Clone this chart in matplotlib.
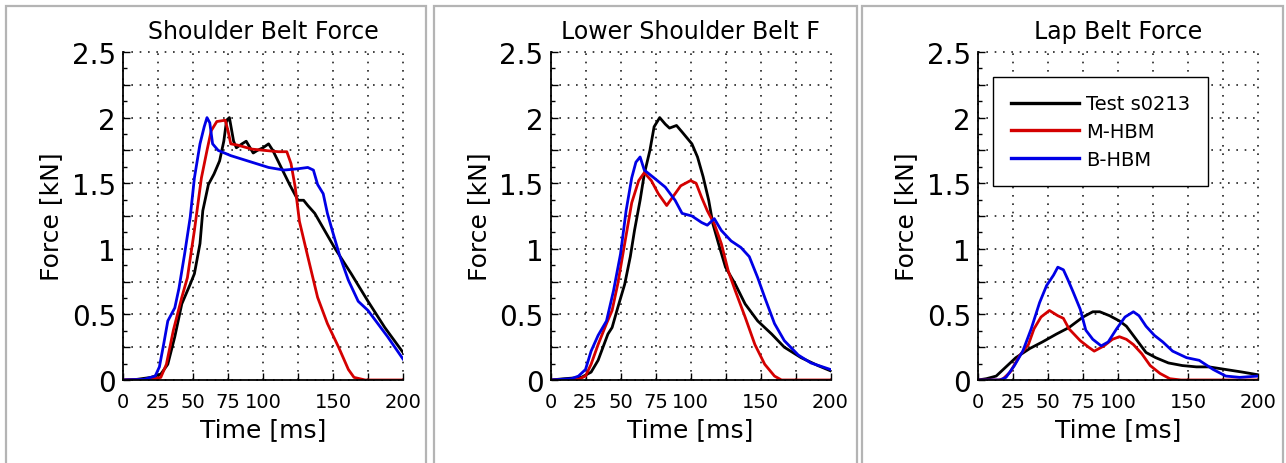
import matplotlib
matplotlib.use("Agg")
import matplotlib.pyplot as plt
from matplotlib.patches import Rectangle
from matplotlib.ticker import FixedLocator, MultipleLocator

plt.rcParams['font.family'] = ['DejaVu Sans']

titles = ["Shoulder Belt Force", "Lower Shoulder Belt F", "Lap Belt Force"]
series_names = ["Test s0213", "M-HBM", "B-HBM"]
x_ticks = [0, 25, 50, 75, 100, 125, 150, 175, 200]
x_tick_labels = ['0', '25', '50', '75', '100', '', '150', '', '200']
y_ticks = [0, 0.25, 0.5, 0.75, 1.0, 1.25, 1.5, 1.75, 2.0, 2.25, 2.5]
y_tick_labels = ['0', '', '0.5', '', '1', '', '1.5', '', '2', '', '2.5']

# Panel 1: Shoulder belt force
sb_test_t = [0, 10, 20, 27, 32, 37, 42, 48, 51, 55, 57, 61, 65, 69, 72, 74, 76, 79, 81, 85, 88, 93, 96, 100,
             104, 107, 113, 119, 125, 129, 132, 137, 144, 151, 163, 175, 187, 200]
sb_test_f = [0.0, 0.005, 0.02, 0.045, 0.12, 0.33, 0.58, 0.73, 0.81, 1.04, 1.29, 1.49, 1.57, 1.67, 1.82, 1.98,
             2.0, 1.82, 1.77, 1.8, 1.82, 1.73, 1.75, 1.77, 1.8, 1.75, 1.62, 1.49, 1.37, 1.37, 1.33, 1.27, 1.14,
             1.01, 0.81, 0.6, 0.4, 0.21]
sb_m_t = [0, 20, 27, 31, 36, 42, 46, 51, 56, 60, 63, 67, 73, 75, 77, 82, 92, 101, 111, 117, 120, 123, 126,
          132, 139, 146, 154, 161, 165, 173, 200]
sb_m_f = [0.0, 0.005, 0.02, 0.12, 0.38, 0.63, 0.78, 1.14, 1.54, 1.75, 1.9, 1.97, 1.98, 1.9, 1.8, 1.79, 1.76,
          1.75, 1.74, 1.74, 1.65, 1.47, 1.21, 0.94, 0.63, 0.43, 0.25, 0.08, 0.02, 0.0, 0.0]
sb_b_t = [0, 15, 23, 26, 29, 32, 37, 40, 44, 48, 51, 55, 58, 60, 62, 64, 68, 77, 92, 104, 115, 125, 132, 136,
          139, 143, 146, 150, 155, 161, 168, 175, 182, 189, 200]
sb_b_f = [0.0, 0.005, 0.03, 0.1, 0.27, 0.45, 0.55, 0.7, 0.96, 1.24, 1.54, 1.8, 1.93, 2.0, 1.96, 1.8, 1.75,
          1.71, 1.66, 1.62, 1.6, 1.61, 1.62, 1.6, 1.49, 1.42, 1.27, 1.12, 0.94, 0.76, 0.6, 0.53, 0.43, 0.33,
          0.16]

# Panel 2: Lower shoulder belt force
lsb_test_t = [0, 10, 22, 29, 34, 41, 44, 48, 53, 57, 60, 64, 67, 71, 74, 78, 82, 85, 90, 94, 101, 105, 109,
              113, 116, 120, 125, 132, 139, 148, 158, 167, 179, 191, 200]
lsb_test_f = [0.0, 0.01, 0.02, 0.06, 0.15, 0.35, 0.4, 0.55, 0.73, 0.94, 1.14, 1.37, 1.57, 1.75, 1.93, 2.0,
              1.95, 1.92, 1.94, 1.89, 1.8, 1.7, 1.55, 1.37, 1.19, 1.04, 0.86, 0.73, 0.58, 0.45, 0.35, 0.25,
              0.17, 0.11, 0.07]
lsb_m_t = [0, 20, 25, 29, 34, 40, 44, 48, 53, 58, 63, 67, 72, 77, 83, 87, 93, 100, 104, 108, 112, 117, 122,
           127, 132, 139, 146, 153, 160, 165, 200]
lsb_m_f = [0.0, 0.005, 0.03, 0.12, 0.27, 0.43, 0.53, 0.73, 1.04, 1.35, 1.52, 1.58, 1.52, 1.42, 1.33, 1.39,
           1.48, 1.52, 1.5, 1.39, 1.29, 1.19, 1.04, 0.83, 0.68, 0.48, 0.27, 0.12, 0.03, 0.0, 0.0]
lsb_b_t = [0, 15, 20, 25, 29, 34, 40, 45, 50, 54, 58, 61, 64, 67, 74, 82, 89, 94, 101, 108, 112, 117, 122,
           129, 136, 142, 148, 153, 160, 167, 177, 186, 200]
lsb_b_f = [0.0, 0.01, 0.03, 0.08, 0.22, 0.34, 0.45, 0.68, 0.96, 1.29, 1.54, 1.66, 1.7, 1.6, 1.54, 1.47,
           1.37, 1.27, 1.25, 1.2, 1.18, 1.23, 1.14, 1.06, 1.01, 0.94, 0.78, 0.63, 0.43, 0.3, 0.19, 0.13, 0.08]

# Panel 3: Lap belt force
lap_test_t = [0, 6, 13, 20, 27, 37, 46, 56, 65, 75, 82, 87, 94, 101, 106, 113, 120, 127, 136, 146, 156, 165,
              177, 189, 200]
lap_test_f = [0.0, 0.01, 0.03, 0.1, 0.17, 0.24, 0.29, 0.35, 0.4, 0.48, 0.52, 0.52, 0.49, 0.45, 0.41, 0.31,
              0.21, 0.17, 0.13, 0.11, 0.1, 0.1, 0.08, 0.06, 0.04]
lap_m_t = [0, 15, 18, 23, 30, 36, 40, 45, 51, 57, 61, 65, 73, 79, 83, 90, 96, 101, 106, 111, 117, 123, 130,
           137, 145, 200]
lap_m_f = [0.0, 0.0, 0.01, 0.06, 0.19, 0.27, 0.39, 0.48, 0.53, 0.49, 0.47, 0.39, 0.3, 0.25, 0.22, 0.26,
           0.31, 0.33, 0.31, 0.27, 0.2, 0.11, 0.05, 0.01, 0.0, 0.0]
lap_b_t = [0, 16, 20, 26, 32, 38, 44, 49, 54, 57, 61, 64, 68, 73, 77, 82, 88, 93, 99, 105, 111, 115, 120,
           126, 132, 139, 149, 158, 168, 177, 187, 200]
lap_b_f = [0.0, 0.0, 0.02, 0.11, 0.22, 0.39, 0.59, 0.72, 0.8, 0.86, 0.84, 0.77, 0.67, 0.54, 0.38, 0.31,
           0.26, 0.29, 0.39, 0.48, 0.52, 0.49, 0.41, 0.34, 0.29, 0.22, 0.17, 0.15, 0.08, 0.03, 0.02, 0.03]

panels = [
    [(sb_test_t, sb_test_f), (sb_m_t, sb_m_f), (sb_b_t, sb_b_f)],
    [(lsb_test_t, lsb_test_f), (lsb_m_t, lsb_m_f), (lsb_b_t, lsb_b_f)],
    [(lap_test_t, lap_test_f), (lap_m_t, lap_m_f), (lap_b_t, lap_b_f)],
]
colors = ['#000000', '#d40000', '#0000e6']

W, H = 1286, 464
fig = plt.figure(figsize=(W / 100, H / 100), dpi=100)
fig.patch.set_facecolor('white')

# Panel frames
frames = [(6, 426), (434, 857), (862, 1283)]
for x0, x1 in frames:
    fig.patches.append(Rectangle((x0 / W, -0.02), (x1 - x0) / W, (H - 7) / H + 0.02,
                                 transform=fig.transFigure, fill=False,
                                 edgecolor='#b4b4b4', linewidth=1.6))

ax_lefts = [123, 550.5, 978]
for i, (left, title, data) in enumerate(zip(ax_lefts, titles, panels)):
    ax = fig.add_axes([left / W, (H - 381) / H, 280 / W, 328 / H])
    for (t, f), c, name in zip(data, colors, series_names):
        ax.plot(t, f, color=c, linewidth=2.0, label=name, solid_joinstyle='round')
    ax.set_xlim(0, 200)
    ax.set_ylim(0, 2.5)
    ax.xaxis.set_major_locator(FixedLocator(x_ticks))
    ax.set_xticklabels(x_tick_labels)
    ax.yaxis.set_major_locator(FixedLocator(y_ticks))
    ax.set_yticklabels(y_tick_labels)
    ax.yaxis.set_minor_locator(MultipleLocator(0.125))
    ax.tick_params(axis='x', direction='in', length=5, width=1, labelsize=14, pad=9)
    ax.tick_params(axis='y', direction='in', length=5, width=1, labelsize=20, pad=5)
    ax.tick_params(axis='y', which='minor', direction='in', length=3, width=1)
    ax.spines['top'].set_visible(False)
    ax.spines['right'].set_visible(False)
    ax.spines['left'].set_linewidth(1.3)
    ax.spines['bottom'].set_linewidth(1.3)
    ax.grid(True, which='major', color='#222222', linestyle=(0, (1, 4)), linewidth=1.2)
    for gl in ax.get_xgridlines() + ax.get_ygridlines():
        gl.set_clip_on(False)
    ax.set_axisbelow(True)
    ax.set_title(title, fontsize=17, pad=10)
    ax.set_xlabel("Time [ms]", fontsize=18, labelpad=4)
    ax.set_ylabel("Force [kN]", fontsize=18, labelpad=6)
    if i == 2:
        leg = ax.legend(loc='upper left', bbox_to_anchor=(0.054, 0.924), borderaxespad=0,
                        fontsize=14, handlelength=3.5, handletextpad=0.4, labelspacing=0.45,
                        fancybox=False, framealpha=1, edgecolor='black', borderpad=0.9)
        leg.get_frame().set_linewidth(1.0)
        for line in leg.get_lines():
            line.set_linewidth(2.4)

fig.savefig("out.png", dpi=100)
